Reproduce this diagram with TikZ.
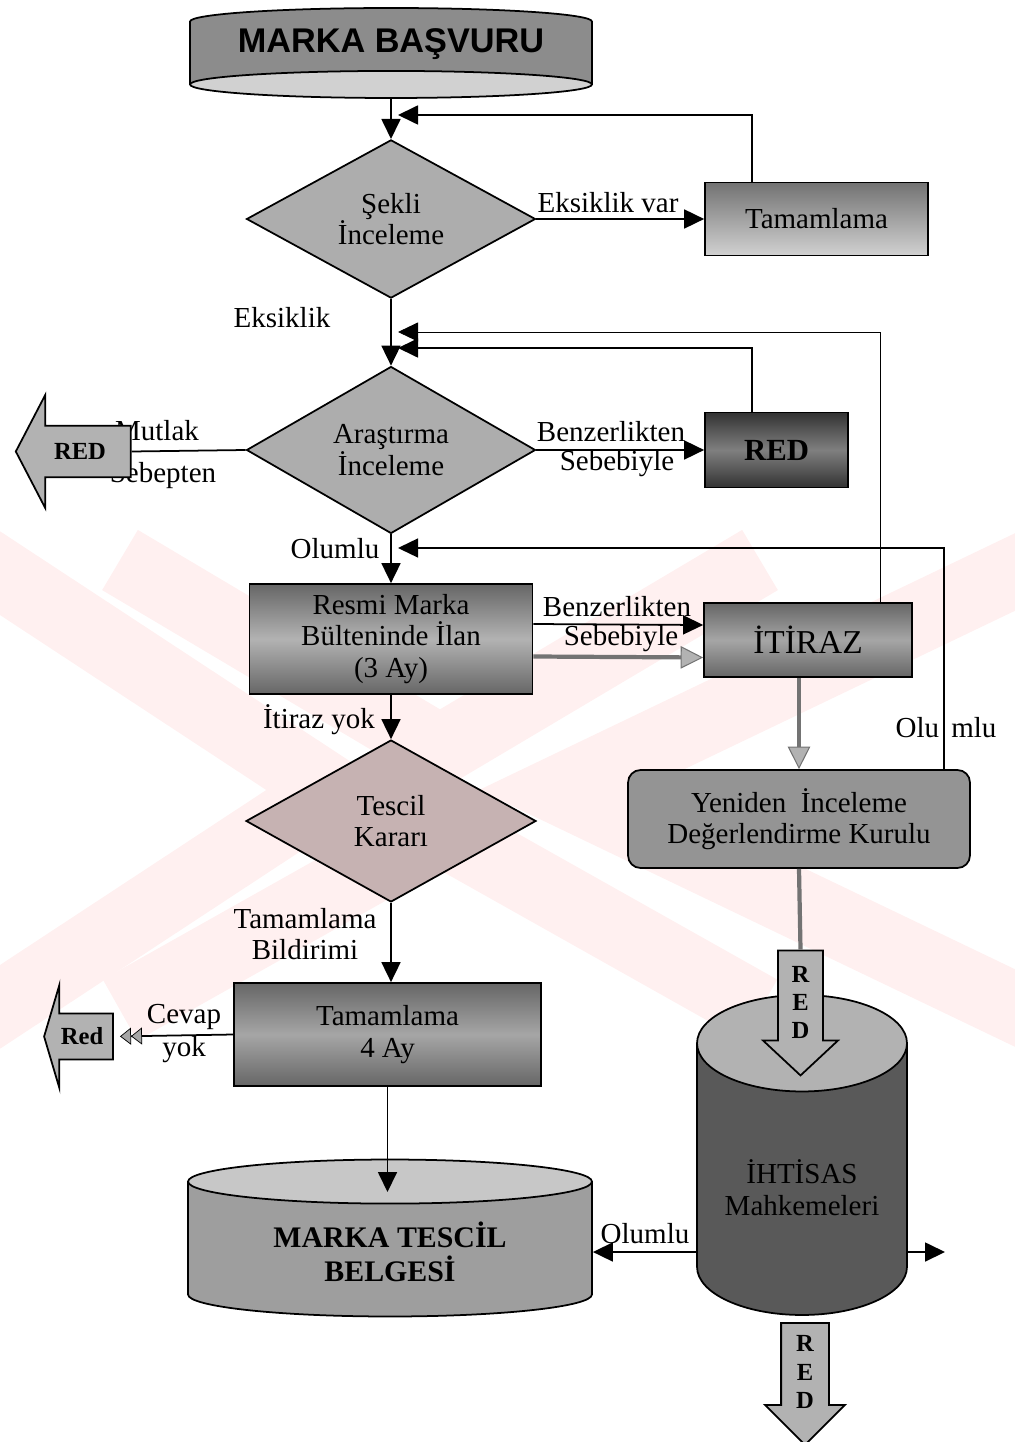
\documentclass[tikz,border=0pt]{standalone}
\usepackage{fontspec}
\setmainfont{Liberation Serif}
\setsansfont{Liberation Sans}
\usepackage{tikz}
\pgfdeclarelayer{background}
\pgfdeclarelayer{main}
\pgfsetlayers{background,main}
\usetikzlibrary{arrows.meta, positioning, shapes.geometric, shapes.arrows}

\begin{document}
\begin{tikzpicture}[
    x=0.02cm, y=-0.02cm,
    font=\fontsize{16.5}{18}\selectfont,
    karar/.style={diamond, draw, line width=1pt, fill=black!32, inner sep=0pt,
        minimum width=5.78cm, minimum height=3.16cm, align=center},
    kutu/.style={rectangle, draw, line width=1pt, align=center, inner sep=2pt},
    silindir/.style={cylinder, draw, line width=1pt, cylinder uses custom fill, align=center,
        anchor=shape center},
    redok/.style={single arrow, draw, line width=1pt, fill=black!30, inner sep=1pt,
        align=center, font=\fontsize{14}{16}\selectfont\bfseries},
    ok/.style={-{Triangle[length=0.4cm, width=0.38cm]}, line width=1pt},
    griok/.style={-{Triangle[length=0.45cm, width=0.45cm, fill=black!30, line width=0.6pt]},
        line width=2.4pt, draw=black!55},
    gricizgi/.style={line width=2.4pt, draw=black!55},
    cevapok/.style={-{Triangle[length=0.22cm, width=0.34cm, fill=black!35, line width=0.4pt]
        Triangle[length=0.22cm, width=0.34cm, fill=black!35, line width=0.4pt]},
        line width=1pt, shorten >=0.12cm},
    etiket/.style={inner sep=1pt}
]
\useasboundingbox (0,0) rectangle (1014,1442);

% filigran
\begin{pgfonlayer}{background}
  \draw[red!6, line width=1.4cm] (-20,560) -- (330,790) -- (-20,1020);
  \draw[red!6, line width=1.4cm] (120,560) -- (440,750) -- (760,560);
  \draw[red!6, line width=1.4cm] (120,1010) -- (440,830) -- (760,1010);
  \draw[red!6, line width=1.4cm] (1040,560) -- (560,790) -- (1040,1020);
\end{pgfonlayer}

\coordinate (don1) at (398,115);
\coordinate (don2) at (398,332);
\coordinate (don3) at (398,348);
\coordinate (don4) at (398,548);
\coordinate (belgeust) at (390,1192);
\coordinate (olm) at (650,1252);
\coordinate (cikis) at (945,1252);

% kutular
\node[silindir, shape border rotate=270, aspect=0.085, minimum width=8.04cm, minimum height=1.8cm,
    cylinder body fill=black!45, cylinder end fill=black!18,
    font=\fontsize{19.5}{22}\selectfont\sffamily\bfseries] (basvuru) at (391,53) {MARKA BAŞVURU};
\node[karar] (sekli) at (391,219) {Şekli\\İnceleme};
\node[kutu, top color=black!55, bottom color=black!18, minimum width=4.46cm, minimum height=1.46cm] (tamam1) at (816.5,219) {Tamamlama};
\node[karar] (arastirma) at (391,450) {Araştırma\\İnceleme};
\node[kutu, top color=black!80, bottom color=black!80, middle color=black!50, minimum width=2.86cm, minimum height=1.5cm,
    font=\fontsize{17.5}{19}\selectfont\bfseries] (redkutu) at (776.5,450) {RED};
\node[kutu, top color=black!60, bottom color=black!60, middle color=black!30, minimum width=5.66cm, minimum height=2.2cm] (resmi) at (391,639) {Resmi Marka\\Bülteninde İlan\\(3 Ay)};
\node[kutu, top color=black!60, bottom color=black!60, middle color=black!35, minimum width=4.16cm, minimum height=1.48cm,
    font=\fontsize{19}{21}\selectfont] (itiraz) at (808,640) {İTİRAZ};
\node[kutu, rounded corners=0.25cm, fill=black!42, minimum width=6.84cm, minimum height=1.96cm] (yeniden) at (799,819) {Yeniden\ \ İnceleme\\Değerlendirme Kurulu};
\node[karar, fill=red!25!black!30, minimum width=5.8cm, minimum height=3.24cm] (tescil) at (391,821) {Tescil\\Kararı};
\node[kutu, top color=black!60, bottom color=black!60, middle color=black!35, minimum width=6.14cm, minimum height=2.06cm] (tamam2) at (387.5,1034.5) {Tamamlama\\4 Ay};
\node[silindir, shape border rotate=90, aspect=0.18, minimum width=8.08cm, minimum height=3.14cm,
    cylinder body fill=black!38, cylinder end fill=black!22,
    font=\fontsize{17}{19.5}\selectfont\bfseries] (belge) at (390,1238) {MARKA TESCİL\\BELGESİ};
\node[silindir, shape border rotate=90, aspect=0.58, minimum width=4.2cm, minimum height=6.4cm,
    cylinder body fill=black!65, cylinder end fill=black!30] (ihtisas) at (802,1155) {İHTİSAS\\Mahkemeleri};

% etiketler
\node[etiket] (eksvar) at (608,203) {Eksiklik var};
\node[etiket] (eksik) at (282,318) {Eksiklik};
\node[etiket] (mutlak) at (157,431) {Mutlak};
\node[etiket] (sebepten) at (163,476) {Sebepten};
\node[etiket] (benz1) at (611,432) {Benzerlikten};
\node[etiket] (sebeb1) at (617,464) {Sebebiyle};
\node[etiket] (olumlu1) at (335,549) {Olumlu};
\node[etiket] (benz2) at (617,607) {Benzerlikten};
\node[etiket] (sebeb2) at (621,639) {Sebebiyle};
\node[etiket] (itirazyok) at (319,720) {İtiraz yok};
\node[etiket] (olumlu2) at (946,728) {Olu\hspace{7pt}mlu};
\node[etiket, align=center] (bildirim) at (305,934) {Tamamlama\\Bildirimi};
\node[etiket] (cevap) at (184,1017) {Cevap};
\node[etiket] (yok) at (184,1050) {yok};
\node[etiket] (olumlu3) at (645,1234) {Olumlu};

% red oklari
\node[redok, shape border rotate=180, inner ysep=8pt, minimum height=2.3cm, minimum width=2.26cm,
    single arrow head extend=0.55cm, single arrow tip angle=125] (redsol) at (80,451.5) {RED};
\node[redok, shape border rotate=180, inner ysep=6pt, minimum height=1.38cm, minimum width=2.06cm,
    single arrow head extend=0.5cm, single arrow tip angle=147] (redkucuk) at (82,1036.5) {Red};
\node[redok, shape border rotate=270, inner xsep=5pt, minimum height=2.5cm, minimum width=1.5cm,
    single arrow tip angle=94] (redorta) at (800.5,1002.5) {R\\E\\D};
\node[redok, shape border rotate=270, inner xsep=5pt, minimum height=2.44cm, minimum width=1.6cm,
    single arrow tip angle=90] (redalt) at (805,1372) {R\\E\\D};

% baglantilar
\draw[ok] (basvuru.270) -- (sekli.north);
\draw[ok] ([xshift=-1.29cm]tamam1.north) |- (don1);
\draw[ok] (sekli.east) -- (tamam1.west);
\draw[ok] (sekli.south) -- (arastirma.north);
\draw[ok, line width=0.5pt] ([xshift=1.44cm]itiraz.north) |- (don2);
\draw[ok] ([xshift=-0.49cm]redkutu.north) |- (don3);
\draw[line width=1pt] (arastirma.west) -- (redsol.0);
\draw[ok] (arastirma.east) -- (redkutu.west);
\draw[ok] (arastirma.south) -- (resmi.north);
\draw[ok, line width=0.8pt] ([xshift=2.9cm]yeniden.north) |- (don4);
\draw[ok] ([yshift=0.3cm]resmi.east) -- ([yshift=0.3cm]itiraz.west);
\draw[griok] ([yshift=-0.35cm]resmi.east) -- ([yshift=-0.35cm]itiraz.west);
\draw[griok] (itiraz.south -| yeniden.north) -- (yeniden.north);
\draw[ok] (resmi.south) -- (tescil.north);
\draw[ok] (tescil.south) -- (tescil.south |- tamam2.north);
\draw[cevapok] (tamam2.west) -- (redkucuk.0);
\draw[ok] (tamam2.south) -- (tamam2.south |- belgeust);
\draw[gricizgi] (yeniden.south) -- (redorta.90);
\draw[ok] (ihtisas.180 |- olm) -- (belge.0 |- olm);
\draw[ok] (ihtisas.0 |- olm) -- (cikis);
\end{tikzpicture}
\end{document}
